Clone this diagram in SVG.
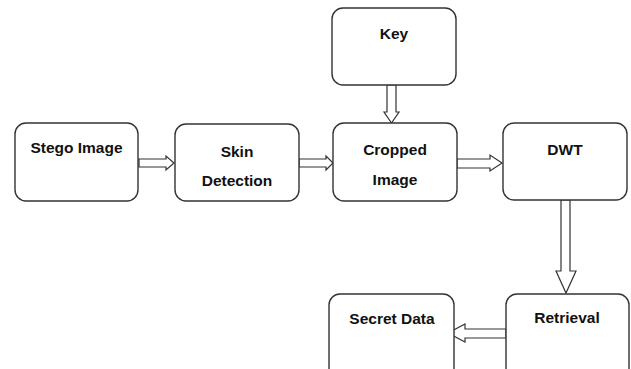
<svg xmlns="http://www.w3.org/2000/svg" width="631" height="369" viewBox="0 0 631 369">
<style>
.box{fill:#fff;stroke:#333;stroke-width:1.4}
.t{font-family:"Liberation Sans",Arial,sans-serif;font-weight:bold;font-size:15.5px;fill:#111;text-anchor:middle}
.arr{fill:#fff;stroke:#333;stroke-width:1.2;stroke-linejoin:miter}
</style>
<rect width="631" height="369" fill="#fff"/>
<g id="connectors">
<polygon class="arr" points="139,159 166,159 166,156 174,163 166,170 166,167 139,167"/>
<polygon class="arr" points="299,159 326,159 326,156 333,163 326,170 326,167 299,167"/>
<polygon class="arr" points="387,85 396,85 396,112 399,112 391.5,123 384,112 387,112"/>
<polygon class="arr" points="457,159 490,159 490,155 502,163 490,171 490,168 457,168"/>
<polygon class="arr" points="561,200 570,200 570,271 576,271 566,293 556,271 561,271"/>
<polygon class="arr" points="506,329 465,329 465,324 448,333 465,342 465,338 506,338"/>
</g>
<g id="stego"><rect class="box" x="15" y="123" width="123" height="78" rx="11"/><text class="t" x="76.5" y="153">Stego Image</text></g>
<g id="skin"><rect class="box" x="175" y="124" width="124" height="77" rx="11"/><text class="t" x="237" y="157">Skin</text><text class="t" x="237" y="186">Detection</text></g>
<g id="key"><rect class="box" x="332" y="8" width="124" height="77" rx="11"/><text class="t" x="394" y="39">Key</text></g>
<g id="cropped"><rect class="box" x="333" y="123" width="124" height="78" rx="11"/><text class="t" x="395" y="155">Cropped</text><text class="t" x="395" y="185">Image</text></g>
<g id="dwt"><rect class="box" x="503" y="123" width="124" height="77" rx="11"/><text class="t" x="565" y="155">DWT</text></g>
<g id="retrieval"><rect class="box" x="506" y="294" width="123" height="95" rx="11"/><text class="t" x="567" y="323">Retrieval</text></g>
<g id="secret"><rect class="box" x="329" y="294" width="125" height="95" rx="11"/><text class="t" x="392" y="324">Secret Data</text></g>
</svg>
